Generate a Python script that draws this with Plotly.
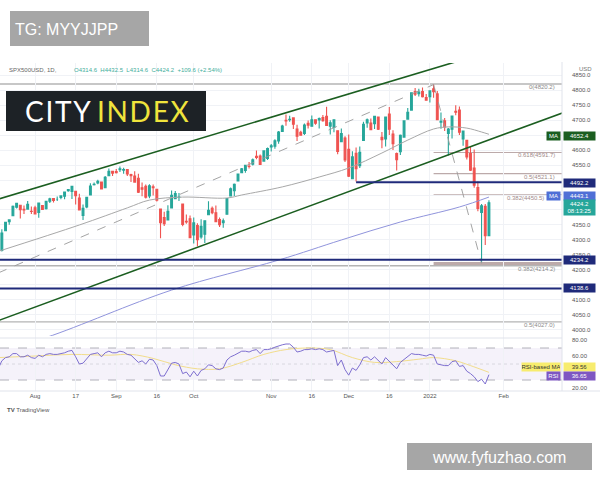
import plotly.graph_objects as go

# ---------------- data ----------------
# bar index 0 = 19 Jul 2021 ... 133 = 26 Jan 2022 (daily bars)
opens = [4296,4265,4331,4361,4381,4409,4416,4402,4403,4396,
         4407,4392,4415,4404,4429,4438,4436,4442,4446,4464,4462,4462,4440,4382,4410,4450,4484,4490,4493,4474,4514,4529,
         4528,4534,4533,4535,4518,4513,4506,4474,4479,4447,4477,4469,4403,4375,4367,4407,4438,4442,4420,4362,4371,
         4317,4348,4310,4319,4384,4406,4391,4368,4358,4386,4447,4464,4497,4524,4532,4546,4553,4579,4580,4563,4572,
         4610,4613,4630,4662,4699,4701,4707,4670,4659,4655,4689,4679,4701,4700,4708,4712,4679,4675,4664,4628,4640,
         4602,4504,4589,4548,4632,4690,4690,4688,4710,4642,4637,4720,4653,4588,4594,4643,4703,4733,4795,4788,4795,4775,
         4778,4804,4787,4693,4697,4655,4669,4729,4733,4637,4632,4588,4540,4475,4392,4412,4314.6]
highs = [4296,4336,4359,4369,4415,4422,4416,4415,4430,4412,
         4414,4424,4417,4430,4441,4439,4445,4449,4461,4468,4480,4462,4454,4418,4444,4489,4492,4501,4495,4513,4538,4531,
         4537,4545,4541,4536,4521,4529,4521,4492,4485,4486,4485,4471,4403,4394,4416,4465,4463,4457,4420,4385,4382,
         4375,4356,4369,4365,4429,4412,4415,4375,4372,4439,4475,4488,4520,4540,4550,4560,4572,4598,4585,4597,4608,
         4620,4636,4663,4684,4718,4714,4708,4684,4664,4688,4698,4715,4701,4708,4717,4744,4699,4702,4665,4672,4646,
         4652,4596,4608,4612,4694,4705,4705,4713,4711,4660,4712,4743,4666,4592,4652,4697,4740,4791,4807,4804,4808,4787,
         4797,4818,4797,4725,4707,4673,4714,4749,4745,4665,4632,4611,4602,4495,4420,4420,4432.5]
lows = [4233,4262,4331,4351,4381,4405,4372,4387,4403,4387,
        4385,4374,4400,4402,4423,4425,4430,4436,4436,4461,4437,4418,4398,4367,4406,4450,4482,4486,4469,4474,4514,4513,
        4522,4527,4521,4513,4493,4493,4457,4446,4438,4439,4448,4428,4306,4347,4367,4407,4436,4430,4346,4354,4306,
        4288,4279,4304,4290,4384,4386,4360,4343,4341,4386,4447,4447,4497,4524,4524,4538,4548,4569,4551,4563,4567,
        4595,4604,4621,4662,4681,4694,4670,4630,4648,4650,4672,4679,4684,4672,4694,4680,4652,4659,4586,4626,4560,
        4510,4504,4495,4540,4632,4674,4667,4670,4667,4606,4612,4650,4600,4532,4583,4643,4703,4733,4780,4778,4775,4766,
        4758,4774,4700,4671,4663,4582,4638,4716,4650,4614,4568,4530,4474,4396,4226,4283,4314.6]
closes = [4258,4323,4359,4367,4412,4422,4401,4400,4419,4395,
          4387,4423,4402,4429,4437,4432,4436,4447,4460,4468,4479,4448,4400,4406,4442,4480,4486,4496,4470,4509,4529,4523,
          4524,4537,4535,4520,4514,4493,4459,4469,4443,4481,4474,4433,4358,4354,4396,4449,4455,4443,4352,4360,4308,
          4357,4301,4346,4364,4399,4391,4361,4351,4364,4438,4471,4486,4520,4537,4549,4545,4567,4575,4552,4597,4605,
          4614,4631,4660,4680,4697,4702,4686,4646,4649,4683,4683,4701,4689,4705,4698,4682,4691,4701,4595,4655,4567,
          4513,4577,4538,4592,4686,4701,4668,4712,4669,4634,4710,4669,4621,4568,4649,4697,4726,4791,4786,4793,4778,4766,
          4797,4794,4701,4696,4677,4670,4713,4726,4659,4663,4577,4533,4483,4405,4414,4314.6,4424.2]
bar_idx = list(range(len(closes)))

rsi = [44,54,58,59,63,63,59,59,61,58,57,61,59,62,63,62,62,63,64,66,67,59,50,51,57,62,63,64,59,64,66,64,
       64,66,65,62,61,57,52,54,50,56,55,48,35,35,43,51,52,50,38,40,34,41,35,42,44,49,48,44,43,45,55,59,61,64,
       66,66,65,67,68,63,68,68,69,71,73,74,75,75,71,65,66,68,68,69,68,69,68,65,66,67,48,55,43,36,45,42,49,58,
       59,55,59,54,50,58,53,48,44,52,56,59,63,62,62,61,60,62,61,50,49,48,48,53,54,47,48,41,38,34,28,31,25,36.65]

rsi_ma_idx = [0,10,20,30,36,42,48,54,60,66,72,78,84,90,96,102,108,114,118,124,128,133]
rsi_ma = [58,60,62,61,62,57,49,44,44,52,62,68,70,68,58,52,53,56,58,54,48,39.56]

ma50_idx = [0,22,35,41,50,62,66,77,87,95,104,111,118,122,127,131,133]
ma50 = [4262,4350,4407,4433,4443,4440,4450,4477,4510,4540,4590,4633,4670,4677,4673,4660,4652.4]

ma200_idx = [0,13,47,76,93,109,125,133]
ma200 = [3930,3975,4133,4233,4300,4360,4410,4443.1]

upper_ch_x, upper_ch_y = [0, 153], [4436, 5001]
lower_ch_x, lower_ch_y = [0, 153], [4031, 4724]
dash_up_x, dash_up_y = [0, 118], [4190, 4818]
dash_dn_x, dash_dn_y = [118, 131], [4818, 4222]

big_fib_levels = [4820.2, 4214.2, 4027.0]
big_fib_labels = ["0(4820.2)", "0.382(4214.2)", "0.5(4027.0)"]
small_fib_levels = [4591.7, 4521.1, 4450.5, 4222.0]
small_fib_labels = ["0.618(4591.7)", "0.5(4521.1)", "0.382(4450.5)", ""]
small_fib_start = 118

levels_full = [4234.2, 4138.6]
level_partial = 4492.2
level_partial_start = 97

price_ticks = [4000 + 50 * i for i in range(18)]
price_hidden = [4650, 4500, 4450, 4400, 4150]          # covered by the axis badges
rsi_ticks = [20, 40, 60, 80]
rsi_hidden = [40]
date_tick_idx = [10, 21, 32, 43, 53, 74, 85, 95, 106, 117, 137]
date_tick_txt = ['Aug', '17', 'Sep', '16', 'Oct', 'Nov', '16', 'Dec', '16', '2022', 'Feb']

# ---------------- figure ----------------
W, H = 600, 480
PX_RIGHT = 562
FONT = "Liberation Sans, Arial, sans-serif"
XR = [0.5, 152.8]

def px(x):
    return x / W

def py(y):
    return 1 - y / H

fig = go.Figure()

fig.add_trace(go.Candlestick(
    x=bar_idx, open=opens, high=highs, low=lows, close=closes,
    increasing=dict(line=dict(color='#26a69a', width=1.1), fillcolor='#26a69a'),
    decreasing=dict(line=dict(color='#ef5350', width=1.1), fillcolor='#ef5350'),
    whiskerwidth=0, xaxis='x', yaxis='y', hoverinfo='skip', showlegend=False))

line_specs = [
    (upper_ch_x, upper_ch_y, '#1b5e20', 1.6, 'solid', 'linear'),
    (lower_ch_x, lower_ch_y, '#1b5e20', 1.6, 'solid', 'linear'),
    (dash_up_x, dash_up_y, '#9a9a9a', 0.9, 'dash', 'linear'),
    (dash_dn_x, dash_dn_y, '#9a9a9a', 0.9, 'dash', 'linear'),
    (ma50_idx, ma50, '#a8a8a8', 1, 'solid', 'spline'),
    (ma200_idx, ma200, '#9094dc', 1, 'solid', 'spline'),
]
for xs, ys, col, w, dash, shp in line_specs:
    fig.add_trace(go.Scatter(x=xs, y=ys, mode='lines', xaxis='x', yaxis='y',
                             line=dict(color=col, width=w, dash=dash, shape=shp),
                             hoverinfo='skip', showlegend=False))

fig.add_trace(go.Scatter(x=rsi_ma_idx, y=rsi_ma, mode='lines', xaxis='x2', yaxis='y2',
                         line=dict(color='#f2dd8c', width=1, shape='spline'),
                         hoverinfo='skip', showlegend=False))
fig.add_trace(go.Scatter(x=bar_idx, y=rsi, mode='lines', xaxis='x2', yaxis='y2',
                         line=dict(color='#7e6fd0', width=1),
                         hoverinfo='skip', showlegend=False))

shapes = []
for lv in big_fib_levels:
    shapes.append(dict(type='line', xref='x', yref='y', x0=XR[0], x1=XR[1], y0=lv, y1=lv,
                       line=dict(color='#b4b4b4', width=1.4), layer='below'))
for lv in small_fib_levels:
    shapes.append(dict(type='line', xref='x', yref='y', x0=small_fib_start, x1=XR[1], y0=lv, y1=lv,
                       line=dict(color='#bcaaaa', width=1.2 if lv > 4300 else 3), layer='below'))
for lv in levels_full:
    shapes.append(dict(type='line', xref='x', yref='y', x0=XR[0], x1=XR[1], y0=lv, y1=lv,
                       line=dict(color='#1f2a7a', width=2)))
shapes.append(dict(type='line', xref='x', yref='y', x0=level_partial_start, x1=XR[1],
                   y0=level_partial, y1=level_partial, line=dict(color='#1f2a7a', width=2)))
shapes.append(dict(type='rect', xref='x2', yref='y2', x0=XR[0], x1=XR[1], y0=30, y1=70,
                   fillcolor='rgba(126,87,194,0.08)', line=dict(width=0), layer='below'))
for lv, d in [(70, 'dash'), (30, 'dash'), (50, 'dot')]:
    shapes.append(dict(type='line', xref='x2', yref='y2', x0=XR[0], x1=XR[1], y0=lv, y1=lv,
                       line=dict(color='#a0a0a8' if lv != 50 else '#d0d0d8', width=0.8, dash=d), layer='below'))
shapes.append(dict(type='line', xref='paper', yref='paper', x0=0, x1=px(PX_RIGHT), y0=py(338), y1=py(338),
                   line=dict(color='#e0e3eb', width=1)))
shapes.append(dict(type='line', xref='paper', yref='paper', x0=px(PX_RIGHT), x1=px(PX_RIGHT), y0=py(62), y1=py(391),
                   line=dict(color='#e0e3eb', width=1)))
shapes.append(dict(type='line', xref='paper', yref='paper', x0=0, x1=1, y0=py(391), y1=py(391),
                   line=dict(color='#e0e3eb', width=1)))
shapes.append(dict(type='rect', xref='paper', yref='paper', x0=px(10), x1=px(149), y0=py(46), y1=py(11),
                   fillcolor='#a6a6a6', line=dict(width=0)))
shapes.append(dict(type='rect', xref='paper', yref='paper', x0=px(407), x1=px(592), y0=py(470), y1=py(443),
                   fillcolor='#a6a6a6', line=dict(width=0)))
shapes.append(dict(type='rect', xref='paper', yref='paper', x0=px(6), x1=px(206), y0=py(131), y1=py(91),
                   fillcolor='#1d2226', line=dict(width=0)))

ann = []
def txt(x, y, s, size=6, color='#555', xanchor='left', yanchor='middle', xref='paper', yref='paper',
        family=FONT, **kw):
    d = dict(x=x, y=y, xref=xref, yref=yref, text=s, showarrow=False, xanchor=xanchor, yanchor=yanchor,
             font=dict(size=size, color=color, family=family))
    d.update(kw)
    ann.append(d)

for lv, lb in zip(big_fib_levels, big_fib_labels):
    txt(px(557), lv, lb, size=6, color='#8a8a8a', xanchor='right', yref='y', yshift=-3)
for lv, lb in zip(small_fib_levels, small_fib_labels):
    if lb:
        right = 546 if lv < 4480 else 557
        txt(px(right), lv, lb, size=6, color='#a08a8a', xanchor='right', yref='y', yshift=-3)

def badge(yv, yref, s, bg, fg='white', x0=PX_RIGHT + 1, w=31, h=8, yshift=0, xanchor='left'):
    ann.append(dict(x=px(x0), y=yv, xref='paper', yref=yref, text=s, showarrow=False,
                    xanchor=xanchor, yanchor='middle', bgcolor=bg, width=w, height=h, borderpad=0,
                    align='center', yshift=yshift, font=dict(size=6, color=fg, family=FONT)))

badge(ma50[-1], 'y', 'MA', '#1b5e20', x0=PX_RIGHT - 1, w=13, xanchor='right', yshift=-2)
badge(ma50[-1], 'y', '4652.4', '#1b5e20', yshift=-2)
badge(level_partial, 'y', '4492.2', '#1f2a7a', yshift=-1)
badge(ma200[-1], 'y', 'MA', '#4f6fd6', x0=PX_RIGHT - 1, w=13, xanchor='right', yshift=1)
badge(ma200[-1], 'y', '4443.1', '#4f6fd6', yshift=1)
badge(closes[-1], 'y', '4424.2<br>08:13:25', '#26a69a', h=15, yshift=-5)
badge(levels_full[0], 'y', '4234.2', '#1f2a7a')
badge(levels_full[1], 'y', '4138.6', '#1f2a7a')
badge(rsi_ma[-1], 'y2', 'RSI-based MA', '#f7ec6e', fg='#333', x0=PX_RIGHT - 1, w=38, xanchor='right', yshift=5)
badge(rsi_ma[-1], 'y2', '39.56', '#f7ec6e', fg='#333', yshift=5)
badge(rsi[-1], 'y2', 'RSI', '#7e57c2', x0=PX_RIGHT - 1, w=13, xanchor='right', yshift=-1)
badge(rsi[-1], 'y2', '36.65', '#7e57c2', yshift=-1)

txt(px(7), py(70), 'SPX500USD, 1D,', size=6, color='#666')
txt(px(72), py(70), 'O4314.6  H4432.5  L4314.6  C4424.2  +109.6 (+2.54%)', size=6, color='#3fae9c')
txt(px(577), py(69), 'USD', size=6, color='#777')
txt(px(5), py(410), '<b>TV</b> TradingView', size=6, color='#555')

hs = '\u200a'
city = hs.join('CITY')
index = hs.join('INDEX')
txt(px(107), py(111), f"<span style='color:#ffffff'>{city}</span> <span style='color:#f0e43c'>{index}</span>",
    size=28, color='#ffffff', xanchor='center', family='Lato, Inter, sans-serif')
txt(px(13), py(29), 'TG: MYYJJPP', size=16, color='#ffffff')
txt(px(499), py(457), 'www.fyfuzhao.com', size=16, color='#ffffff', xanchor='center')

grid = '#f0f2f6'
fig.update_layout(
    width=W, height=H, margin=dict(l=0, r=0, t=0, b=0),
    paper_bgcolor='white', plot_bgcolor='white',
    font=dict(family=FONT, size=6, color='#555'),
    showlegend=False, shapes=shapes, annotations=ann,
    xaxis=dict(domain=[0, px(PX_RIGHT)], range=XR, anchor='y', showticklabels=False,
               tickvals=date_tick_idx, showgrid=True, gridcolor=grid, zeroline=False,
               rangeslider=dict(visible=False), fixedrange=True),
    yaxis=dict(domain=[py(338), py(63)], range=[3973.3, 4890], side='right', anchor='x',
               tickvals=price_ticks,
               ticktext=['' if v in price_hidden else f'{v:.1f}' for v in price_ticks],
               tickfont=dict(size=6, color='#555'), ticks='', ticklabelstandoff=9,
               showgrid=True, gridcolor=grid, zeroline=False),
    xaxis2=dict(domain=[0, px(PX_RIGHT)], range=XR, anchor='y2', tickvals=date_tick_idx,
                ticktext=date_tick_txt, tickfont=dict(size=6, color='#555'), ticks='',
                showgrid=True, gridcolor=grid, zeroline=False, ticklabelstandoff=0),
    yaxis2=dict(domain=[py(391), py(336)], range=[16.25, 85.0], side='right', anchor='x2',
                tickvals=rsi_ticks,
                ticktext=['' if v in rsi_hidden else f'{v:.2f}' for v in rsi_ticks],
                tickfont=dict(size=6, color='#555'), ticks='', ticklabelstandoff=9,
                ticklabeloverflow='allow', showgrid=False, zeroline=False),
)

fig.write_html("out.html", config={'displayModeBar': False},
               post_script="document.body.style.margin='0';document.body.style.overflow='hidden';")
